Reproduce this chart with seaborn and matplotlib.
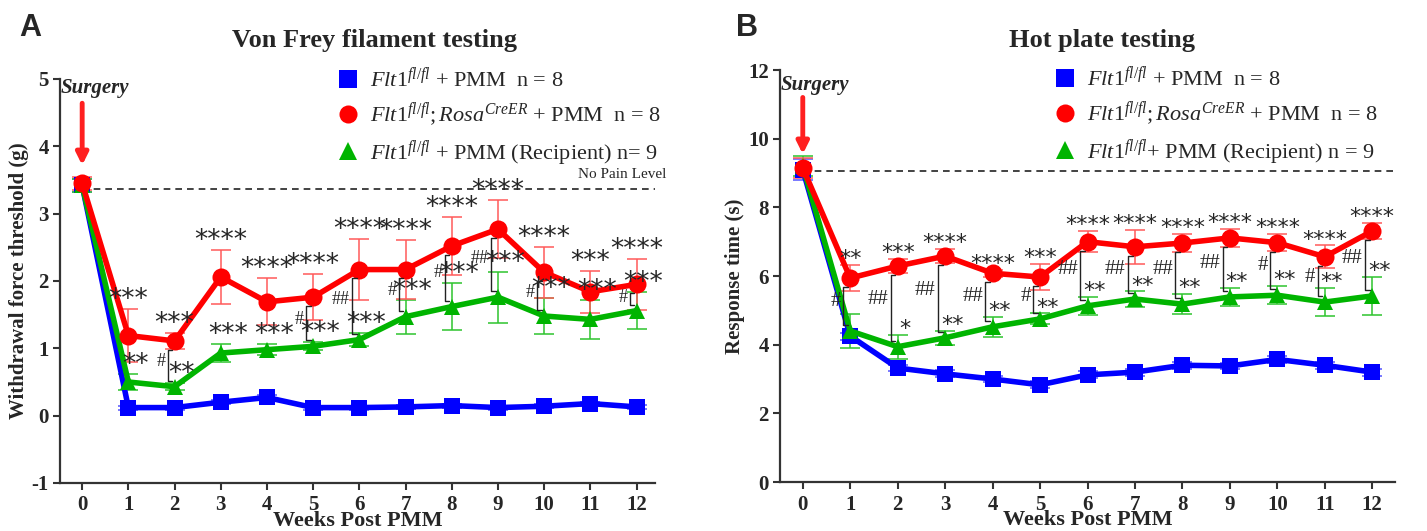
import numpy as np
import pandas as pd
import matplotlib
matplotlib.use("Agg")
import matplotlib.pyplot as plt
import seaborn as sns
from matplotlib.lines import Line2D

# ---------------- data ----------------
weeks = list(range(13))

# Von Frey (g)
vf_ctrl = [3.42, 0.12, 0.12, 0.20, 0.27, 0.12, 0.12, 0.13, 0.15, 0.12, 0.14, 0.18, 0.13]
vf_ctrl_err = [0.10, 0.03, 0.03, 0.03, 0.03, 0.03, 0.03, 0.03, 0.03, 0.03, 0.03, 0.03, 0.03]
vf_ko = [3.45, 1.19, 1.11, 2.06, 1.69, 1.76, 2.17, 2.17, 2.52, 2.77, 2.13, 1.84, 1.95]
vf_ko_err = [0.10, 0.39, 0.12, 0.40, 0.35, 0.34, 0.45, 0.44, 0.43, 0.43, 0.38, 0.31, 0.38]
vf_rec = [3.42, 0.50, 0.43, 0.93, 0.98, 1.03, 1.13, 1.47, 1.62, 1.76, 1.48, 1.43, 1.56]
vf_rec_err = [0.10, 0.12, 0.05, 0.14, 0.08, 0.06, 0.10, 0.25, 0.35, 0.38, 0.27, 0.29, 0.27]
vf_ko_sig = ["", "***", "***", "****", "****", "****", "****", "****", "****", "****", "****", "***", "****"]
vf_rec_sig = ["", "**", "**", "***", "***", "***", "***", "***", "***", "***", "***", "***", "***"]
vf_hash = ["", "", "#", "", "", "#", "##", "#", "#", "##", "#", "", "#"]

# Hot plate (s)
hp_ctrl = [9.10, 4.25, 3.32, 3.15, 3.00, 2.83, 3.12, 3.20, 3.40, 3.38, 3.57, 3.40, 3.20]
hp_ctrl_err = [0.30, 0.10, 0.10, 0.10, 0.10, 0.10, 0.10, 0.10, 0.10, 0.10, 0.10, 0.10, 0.10]
hp_ko = [9.15, 5.94, 6.29, 6.58, 6.08, 5.97, 7.00, 6.85, 6.96, 7.11, 6.97, 6.56, 7.31]
hp_ko_err = [0.30, 0.39, 0.20, 0.20, 0.10, 0.39, 0.30, 0.50, 0.27, 0.27, 0.25, 0.33, 0.24]
hp_rec = [9.20, 4.40, 3.94, 4.20, 4.52, 4.75, 5.13, 5.33, 5.18, 5.39, 5.44, 5.24, 5.42]
hp_rec_err = [0.30, 0.50, 0.35, 0.20, 0.29, 0.16, 0.27, 0.22, 0.30, 0.25, 0.27, 0.40, 0.55]
hp_ko_sig = ["", "**", "***", "****", "****", "***", "****", "****", "****", "****", "****", "****", "****"]
hp_rec_sig = ["", "", "*", "**", "**", "**", "**", "**", "**", "**", "**", "**", "**"]
hp_hash = ["", "#", "##", "##", "##", "#", "##", "##", "##", "##", "#", "#", "##"]

groups = ["ctrl", "rec", "ko"]
labels_a = [r"$\mathit{Flt1}^{\mathit{fl/fl}}$ + PMM  n = 8",
            r"$\mathit{Flt1}^{\mathit{fl/fl}};\mathit{Rosa}^{\mathit{CreER}}$ + PMM  n = 8",
            r"$\mathit{Flt1}^{\mathit{fl/fl}}$ + PMM (Recipient) n= 9"]
labels_b = [r"$\mathit{Flt1}^{\mathit{fl/fl}}$ + PMM  n = 8",
            r"$\mathit{Flt1}^{\mathit{fl/fl}};\mathit{Rosa}^{\mathit{CreER}}$ + PMM  n = 8",
            r"$\mathit{Flt1}^{\mathit{fl/fl}}$+ PMM (Recipient) n = 9"]

# ---------------- style ----------------
sns.set_style("ticks")
plt.rcParams["font.family"] = ["Liberation Serif", "DejaVu Serif"]
plt.rcParams["mathtext.fontset"] = "custom"
plt.rcParams["mathtext.rm"] = "Liberation Serif"
plt.rcParams["mathtext.it"] = "Liberation Serif:italic"
plt.rcParams["mathtext.bf"] = "Liberation Serif:bold"

colors = {"ctrl": "#0000ff", "ko": "#ff0000", "rec": "#00b400"}
err_colors = {"ctrl": "#5555ff", "ko": "#ff5a5a", "rec": "#2ec42e"}
markers = {"ctrl": "s", "ko": "o", "rec": "^"}
msize = {"ctrl": 12, "ko": 13, "rec": 12}

fig = plt.figure(figsize=(14.27, 5.31), dpi=100)
axA = fig.add_axes([60 / 1427, 1 - 483 / 531, 595 / 1427, 404 / 531])
axB = fig.add_axes([780 / 1427, 1 - 482 / 531, 615 / 1427, 412 / 531])


def panel(ax, ctrl, ctrl_e, ko, ko_e, rec, rec_e, ko_sig, rec_sig, hashes,
          ylim, yticks, ylabel, nopain, labels, star_fs, hash_fs, surgery_y,
          arrow_from, arrow_to, xmax, legend_anchor, nopain_text):
    vals = {"ctrl": ctrl, "ko": ko, "rec": rec}
    errs = {"ctrl": ctrl_e, "ko": ko_e, "rec": rec_e}
    rows = []
    for g in groups:
        for w, v in zip(weeks, vals[g]):
            rows.append({"week": w, "value": v, "group": g})
    df = pd.DataFrame(rows)
    rng = ylim[1] - ylim[0]

    for g in groups:
        ax.errorbar(weeks, vals[g], yerr=errs[g], fmt="none", ecolor=err_colors[g],
                    elinewidth=1.1, capsize=7, capthick=1.1, zorder=1)
    for g in groups:
        sns.lineplot(data=df[df.group == g], x="week", y="value", color=colors[g],
                     marker=markers[g], markersize=msize[g], markeredgewidth=0,
                     linewidth=4, ax=ax, legend=False, zorder=3)

    # no pain level
    ax.hlines(nopain, 0, xmax, colors="#222222", linestyles=(0, (4, 3)), lw=1.2, zorder=2)
    if nopain_text:
        ax.text(11.7, nopain + 0.02 * rng, "No Pain Level", ha="center", va="bottom",
                fontsize=11)

    # significance
    for w in weeks:
        if ko_sig[w]:
            ax.text(w, ko[w] + ko_e[w] - 0.01 * rng, ko_sig[w], ha="center", va="bottom",
                    fontsize=star_fs, family="DejaVu Sans", zorder=5)
        if rec_sig[w]:
            ax.text(w + 0.15, rec[w] + rec_e[w] - 0.01 * rng, rec_sig[w], ha="center",
                    va="bottom", fontsize=star_fs, family="DejaVu Sans", zorder=5)
        if hashes[w]:
            bx = w - 0.15
            lo = rec[w] + 0.015 * rng
            hi = ko[w] - 0.022 * rng
            ax.plot([bx + 0.1, bx, bx, bx + 0.1], [hi, hi, lo, lo], color="#222222",
                    lw=1.0, zorder=4)
            ax.text(bx - 0.05, (lo + hi) / 2 + 0.12 * (hi - lo), hashes[w], ha="right",
                    va="center", fontsize=hash_fs, zorder=5)

    # surgery arrow
    ax.annotate("", xy=(0, arrow_to), xytext=(0, arrow_from),
                arrowprops=dict(arrowstyle="-|>,head_width=0.35,head_length=0.7",
                                color="#ff2020", lw=3.5, shrinkA=0, shrinkB=0),
                annotation_clip=False)
    ax.text(-0.47, surgery_y, "Surgery", fontsize=15, fontweight="bold",
            fontstyle="italic", va="center", ha="left", clip_on=False)

    ax.set_xlim(-0.48, xmax)
    ax.set_ylim(*ylim)
    ax.set_xticks(weeks)
    ax.set_yticks(yticks)
    ax.set_xticklabels([str(w) for w in weeks], fontweight="bold")
    ax.set_yticklabels([str(t) for t in yticks], fontweight="bold")
    ax.tick_params(axis="both", labelsize=15, width=1.5, length=5, color="#333333",
                   direction="out", pad=3)
    ax.tick_params(axis="x", pad=4)
    for s in ["top", "right"]:
        ax.spines[s].set_visible(False)
    for s in ["left", "bottom"]:
        ax.spines[s].set_linewidth(1.6)
        ax.spines[s].set_color("#333333")
    ax.set_xlabel("Weeks Post PMM", fontsize=16, fontweight="bold", labelpad=-3)
    ax.set_ylabel(ylabel, fontsize=15, fontweight="bold", labelpad=2)

    handles = [Line2D([], [], color=colors[g], marker=markers[g], linestyle="None",
                      markersize=13, markeredgewidth=0) for g in ["ctrl", "ko", "rec"]]
    ax.legend(handles, labels, loc="upper left", bbox_to_anchor=legend_anchor,
              frameon=False, fontsize=16, handlelength=1.0, handletextpad=0.5,
              labelspacing=0.42, borderaxespad=0, borderpad=0)


panel(axA, vf_ctrl, vf_ctrl_err, vf_ko, vf_ko_err, vf_rec, vf_rec_err,
      vf_ko_sig, vf_rec_sig, vf_hash, (-1, 5), [-1, 0, 1, 2, 3, 4, 5],
      "Withdrawal force threshold (g)", 3.37, labels_a, 19, 13, 4.86,
      4.64, 3.72, 12.4, (0.465, 1.03), True)
panel(axB, hp_ctrl, hp_ctrl_err, hp_ko, hp_ko_err, hp_rec, hp_rec_err,
      hp_ko_sig, hp_rec_sig, hp_hash, (0, 12), [0, 2, 4, 6, 8, 10, 12],
      "Response time (s)", 9.06, labels_b, 16, 15, 11.55,
      11.2, 9.55, 12.48, (0.445, 1.01), False)

fig.text(375 / 1427, 1 - 40 / 531, "Von Frey filament testing", ha="center", va="center",
         fontsize=19, fontweight="bold")
fig.text(1102 / 1427, 1 - 40 / 531, "Hot plate testing", ha="center", va="center",
         fontsize=19, fontweight="bold")
fig.text(30 / 1427, 1 - 28 / 531, "A", ha="center", va="center", fontsize=22,
         fontweight="bold", family="Liberation Sans")
fig.text(747 / 1427, 1 - 28 / 531, "B", ha="center", va="center", fontsize=22,
         fontweight="bold", family="Liberation Sans")

fig.savefig("out.png", dpi=100)
